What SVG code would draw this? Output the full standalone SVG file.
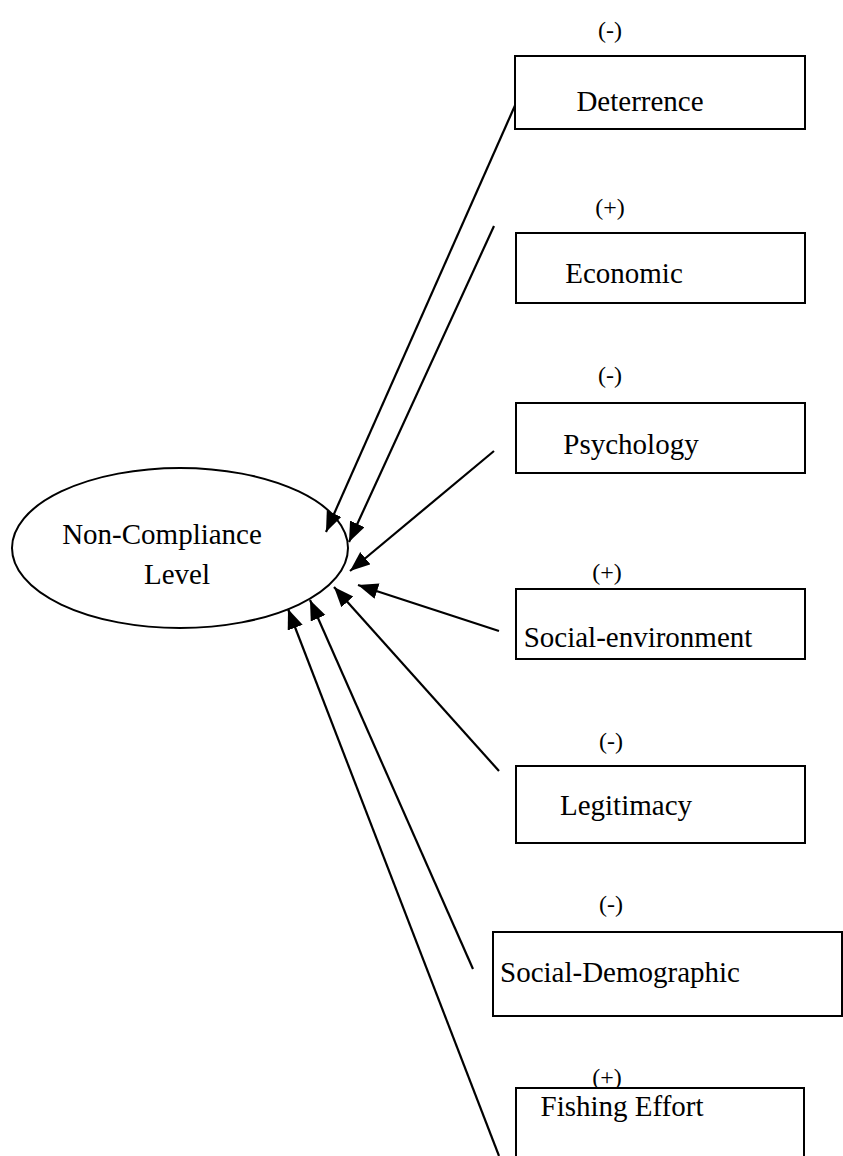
<svg xmlns="http://www.w3.org/2000/svg" width="843" height="1156" viewBox="0 0 843 1156">
<style>
.box{fill:#fff;stroke:#000;stroke-width:2}
.t{font-family:"Liberation Serif","Times New Roman",serif;font-size:29px;fill:#000;text-anchor:middle}
.s{font-family:"Liberation Serif","Times New Roman",serif;font-size:24px;fill:#000;text-anchor:middle}
.c{stroke:#000;stroke-width:2.2;fill:none;marker-end:url(#ah)}
</style>
<defs>
<marker id="ah" markerUnits="userSpaceOnUse" markerWidth="22" markerHeight="18" refX="20" refY="8" orient="auto">
<path d="M0,0 L20,8 L0,16 Z" fill="#000"/>
</marker>
</defs>
<rect width="843" height="1156" fill="#fff"/>
<g id="connectors">
<line class="c" x1="517" y1="101" x2="326" y2="532"/>
<line class="c" x1="494" y1="226" x2="349" y2="542"/>
<line class="c" x1="494" y1="451" x2="350" y2="571"/>
<line class="c" x1="499" y1="631" x2="358" y2="585"/>
<line class="c" x1="499" y1="771" x2="334" y2="587"/>
<line class="c" x1="473" y1="969" x2="310" y2="600"/>
<line class="c" x1="499" y1="1156" x2="288" y2="609"/>
</g>
<g id="noncompliance">
<ellipse cx="180" cy="548" rx="168" ry="80" fill="none" stroke="#000" stroke-width="2"/>
<text class="t" x="162" y="544">Non-Compliance</text>
<text class="t" x="177" y="584">Level</text>
</g>
<g id="deterrence">
<text class="s" x="610" y="38">(-)</text>
<rect class="box" x="515" y="56" width="290" height="73"/>
<text class="t" x="640" y="111">Deterrence</text>
</g>
<g id="economic">
<text class="s" x="610" y="215">(+)</text>
<rect class="box" x="516" y="233" width="289" height="70"/>
<text class="t" x="624" y="283">Economic</text>
</g>
<g id="psychology">
<text class="s" x="610" y="383">(-)</text>
<rect class="box" x="516" y="403" width="289" height="70"/>
<text class="t" x="631" y="454">Psychology</text>
</g>
<g id="social-environment">
<text class="s" x="607" y="580">(+)</text>
<rect class="box" x="516" y="589" width="289" height="70"/>
<text class="t" x="638" y="647">Social-environment</text>
</g>
<g id="legitimacy">
<text class="s" x="611" y="749">(-)</text>
<rect class="box" x="516" y="766" width="289" height="77"/>
<text class="t" x="626" y="815">Legitimacy</text>
</g>
<g id="social-demographic">
<text class="s" x="611" y="912">(-)</text>
<rect class="box" x="493" y="932" width="349" height="84"/>
<text class="t" x="620" y="982">Social-Demographic</text>
</g>
<g id="fishing-effort">
<text class="s" x="607" y="1085">(+)</text>
<rect class="box" x="516" y="1088" width="288" height="80"/>
<text class="t" x="622" y="1116">Fishing Effort</text>
</g>
</svg>
